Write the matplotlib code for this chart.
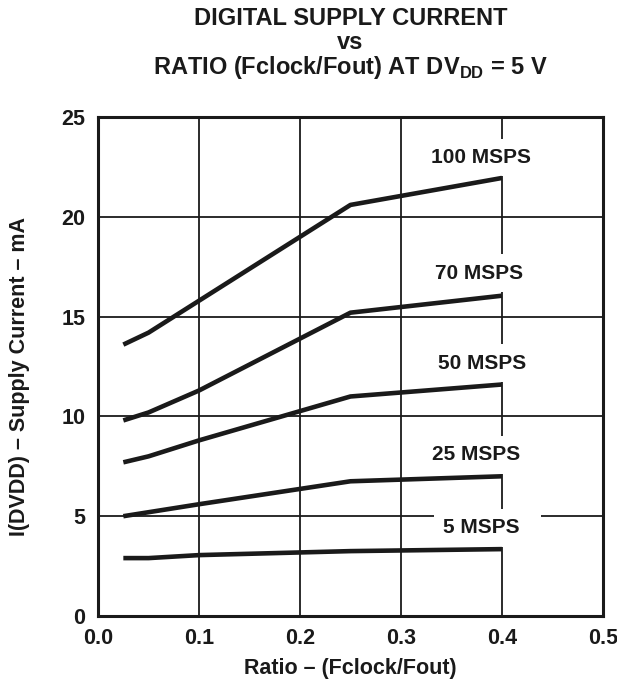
import matplotlib.pyplot as plt

plt.rcParams['font.family'] = ['Liberation Sans', 'DejaVu Sans']
plt.rcParams['font.weight'] = 'bold'
plt.rcParams['mathtext.fontset'] = 'custom'
plt.rcParams['mathtext.bf'] = 'Liberation Sans:bold'
plt.rcParams['mathtext.rm'] = 'Liberation Sans:bold'

# ratio Fclock/Fout
ratio = [0.025, 0.05, 0.1, 0.25, 0.4]

# supply current, mA
i_100 = [13.6, 14.2, 15.8, 20.6, 21.95]
i_70 = [9.8, 10.2, 11.3, 15.2, 16.05]
i_50 = [7.7, 8.0, 8.8, 11.0, 11.6]
i_25 = [5.0, 5.2, 5.6, 6.75, 7.0]
i_5 = [2.9, 2.9, 3.05, 3.25, 3.35]

series = [i_100, i_70, i_50, i_25, i_5]
labels = ["100 MSPS", "70 MSPS", "50 MSPS", "25 MSPS", "5 MSPS"]
# label anchor (left, baseline) in data units
lab_x = [0.330, 0.334, 0.337, 0.331, 0.342]
lab_y = [22.7, 16.9, 12.4, 7.8, 4.15]

ink = "#1a1a1a"

fig = plt.figure(figsize=(6.17, 6.81), dpi=100)
ax = fig.add_axes([0.159, 0.0955, 0.818, 0.7325])

for s in series:
    ax.plot(ratio, s, color=ink, lw=3.3, solid_capstyle="butt", zorder=3)

for x, y, t in zip(lab_x, lab_y, labels):
    ax.text(x, y, t + "  ", ha="left", va="baseline", fontsize=15,
            fontweight="bold", color=ink, zorder=2.5,
            bbox=dict(boxstyle="square,pad=0.45", fc="white", ec="none"))

ax.set_xlim(0, 0.5)
ax.set_ylim(0, 25)
ax.set_xticks([0.0, 0.1, 0.2, 0.3, 0.4, 0.5])
ax.set_xticklabels(["0.0", "0.1", "0.2", "0.3", "0.4", "0.5"])
ax.set_yticks([0, 5, 10, 15, 20, 25])
ax.grid(True, color=ink, lw=1.3)
ax.set_axisbelow(True)
ax.tick_params(length=0, labelsize=15.5, pad=9, colors=ink)
for sp in ax.spines.values():
    sp.set_linewidth(2.2)
    sp.set_color(ink)

ax.set_xlabel("Ratio \u2013 (Fclock/Fout)", fontsize=15.5, fontweight="bold",
              color=ink, labelpad=6)
ax.set_ylabel("I(DVDD) \u2013 Supply Current \u2013 mA", fontsize=15.5,
              fontweight="bold", color=ink)
ax.yaxis.set_label_coords(-0.135, 0.48)

fig.text(0.568, 0.973, "DIGITAL SUPPLY CURRENT", ha="center", va="center",
         fontsize=17, fontweight="bold", color=ink)
fig.text(0.568, 0.937, "vs", ha="center", va="center",
         fontsize=17, fontweight="bold", color=ink)
fig.text(0.568, 0.901, r"RATIO (Fclock/Fout) AT DV$_{\mathbf{DD}}$ = 5 V",
         ha="center", va="center", fontsize=17, fontweight="bold", color=ink)

fig.savefig("out.png", dpi=100)
